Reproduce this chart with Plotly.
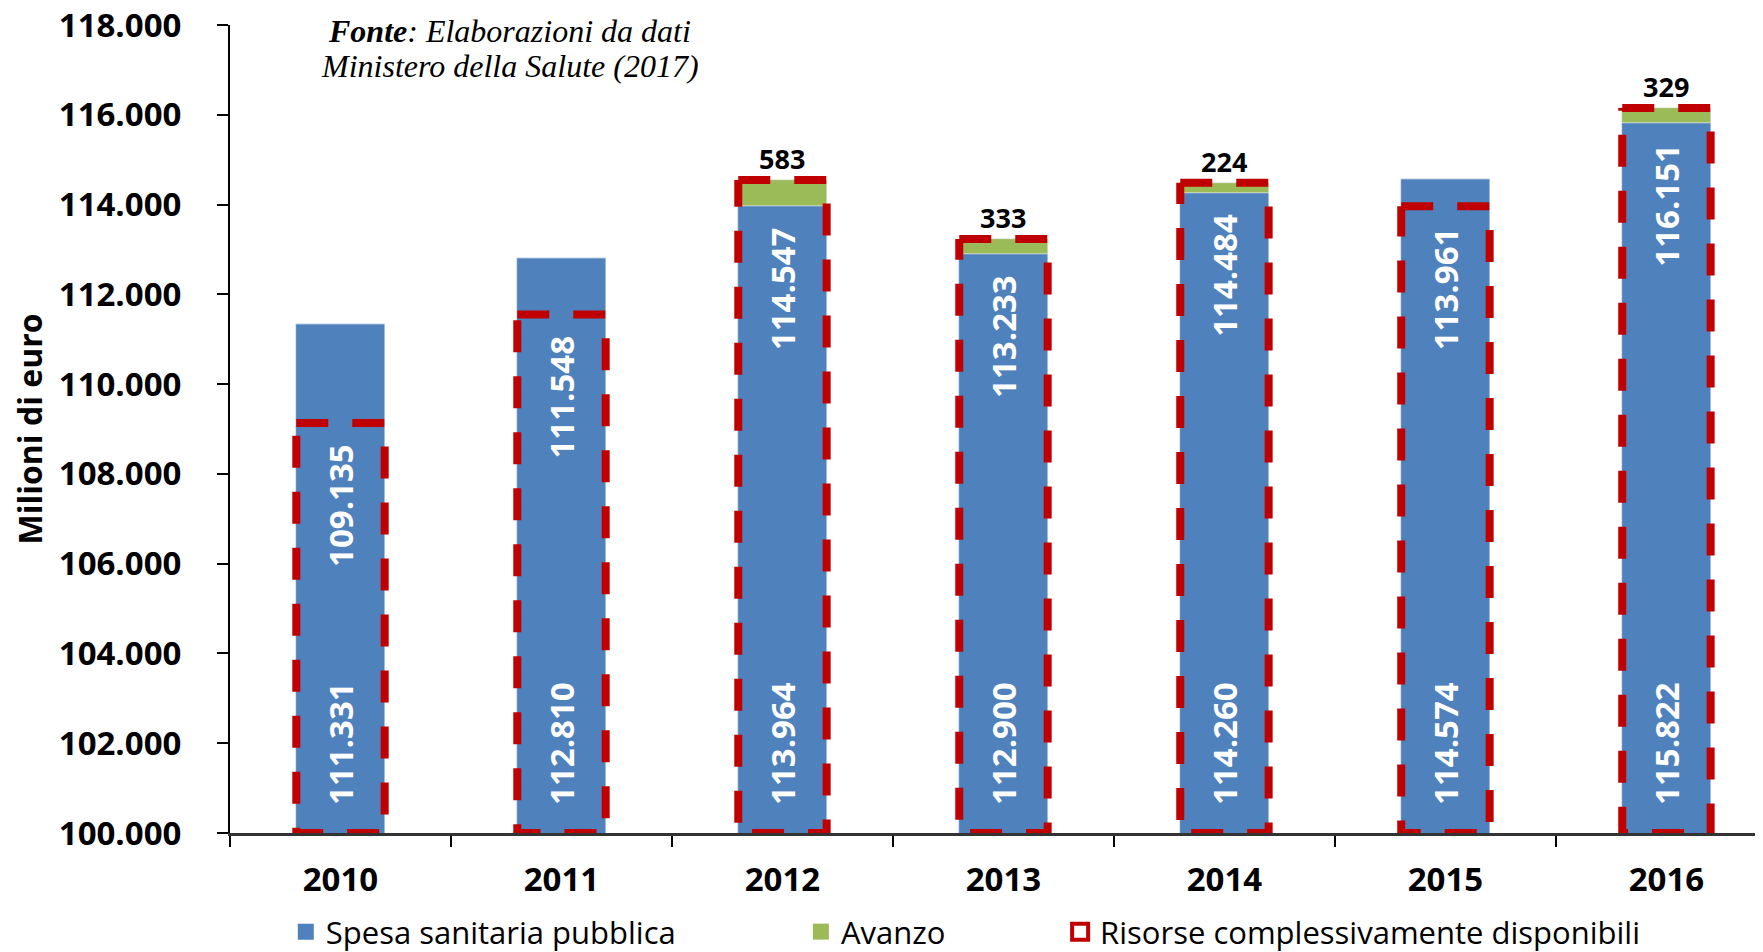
import plotly.graph_objects as go

# Data (milioni di euro)
anni = ["2010", "2011", "2012", "2013", "2014", "2015", "2016"]
spesa = [111331, 112810, 113964, 112900, 114260, 114574, 115822]
avanzo = [None, None, 583, 333, 224, None, 329]
risorse = [109135, 111548, 114547, 113233, 114484, 113961, 116151]

BLUE = "#4F81BD"
GREEN = "#9BBB59"
RED = "#C00000"
FONT = "Open Sans"
BASE = 100000
HALF = 0.2  # half bar width in category units


def fmt(v):
    return f"{v:,}".replace(",", ".")


idx = list(range(len(anni)))

fig = go.Figure()

# Blue bars: public health spending
fig.add_trace(go.Bar(x=idx, y=spesa, width=2 * HALF, marker_color=BLUE,
                     showlegend=False, hoverinfo="skip"))

# Green bars: surplus stacked on top of the spending
fig.add_trace(go.Bar(x=idx, y=[a if a else 0 for a in avanzo], base=spesa,
                     width=2 * HALF, marker_color=GREEN,
                     showlegend=False, hoverinfo="skip"))

# Red dashed outline: total available resources (clockwise from top-left)
ox, oy = [], []
for i, r in zip(idx, risorse):
    ox += [i - HALF, i + HALF, i + HALF, i - HALF, i - HALF, None]
    oy += [r, r, BASE, BASE, r, None]
fig.add_trace(go.Scatter(x=ox, y=oy, mode="lines",
                         line=dict(color=RED, width=8, dash="32px,24px"),
                         showlegend=False, hoverinfo="skip"))

# Legend entries (one legend per item to keep the original spacing)
fig.add_trace(go.Scatter(x=[None], y=[None], mode="markers", name="Spesa sanitaria pubblica",
                         marker=dict(symbol="square", size=16, color=BLUE), legend="legend"))
fig.add_trace(go.Scatter(x=[None], y=[None], mode="markers", name="Avanzo",
                         marker=dict(symbol="square", size=16, color=GREEN), legend="legend2"))
fig.add_trace(go.Scatter(x=[None], y=[None], mode="markers", name="Risorse complessivamente disponibili",
                         marker=dict(symbol="square-open", size=16, color=RED, line=dict(width=4)),
                         legend="legend3"))

# Value labels
for i, s, r, a in zip(idx, spesa, risorse, avanzo):
    fig.add_annotation(x=i, y=BASE, text=fmt(s), textangle=-90, showarrow=False,
                       yanchor="bottom", yshift=26,
                       font=dict(family=FONT, size=33, color="white", weight="bold"))
    fig.add_annotation(x=i, y=min(s, r), text=fmt(r), textangle=-90, showarrow=False,
                       yanchor="top", yshift=-19,
                       font=dict(family=FONT, size=33, color="white", weight="bold"))
    if a:
        fig.add_annotation(x=i, y=r, text=str(a), showarrow=False,
                           yanchor="bottom", yshift=1,
                           font=dict(family=FONT, size=27, color="black", weight="bold"))

# Source note (two lines, tighter spacing than the default line height)
note_font = dict(family="Liberation Serif", size=32, color="black", style="italic")
fig.add_annotation(xref="paper", yref="paper", x=0.1826, y=0.9926, xanchor="center", yanchor="middle",
                   text="<b>Fonte</b>: Elaborazioni da dati", showarrow=False, font=note_font)
fig.add_annotation(xref="paper", yref="paper", x=0.1826, y=0.9493, xanchor="center", yanchor="middle",
                   text="Ministero della Salute (2017)", showarrow=False, font=note_font)

legend_common = dict(orientation="h", yanchor="middle", y=-0.1225, xanchor="left",
                     bgcolor="rgba(0,0,0,0)", font=dict(family=FONT, size=31, color="black"))

fig.update_layout(
    width=1755, height=944,
    margin=dict(l=222, r=0, t=17, b=119, autoexpand=False),
    paper_bgcolor="white", plot_bgcolor="white",
    barmode="overlay", bargap=0,
    separators=",.",
    font=dict(family=FONT, color="black"),
    legend=dict(x=0.0364, **legend_common),
    legend2=dict(x=0.3724, **legend_common),
    legend3=dict(x=0.5415, **legend_common),
    xaxis=dict(range=[-0.5, 6.437], tickvals=idx, ticktext=anni, ticks="",
               tickfont=dict(family=FONT, size=33, weight="bold"),
               ticklabelstandoff=16, automargin=False,
               showline=True, linecolor="#333333", linewidth=2.5, showgrid=False, zeroline=False,
               minor=dict(tick0=-0.5, dtick=1, ticks="outside", ticklen=11, tickwidth=1.5,
                          tickcolor="black", showgrid=False)),
    yaxis=dict(range=[100000, 118000], dtick=2000, tickformat=",", ticks="outside",
               ticklen=11, tickwidth=2, tickcolor="black",
               tickfont=dict(family=FONT, size=33, weight="bold"),
               ticklabelstandoff=29, automargin=False, ticklabeloverflow="allow",
               showline=True, linecolor="black", linewidth=2, showgrid=False, zeroline=False,
               title=dict(text="Milioni di euro", standoff=31,
                          font=dict(family=FONT, size=32, weight="bold"))),
)

fig.write_html("out.html")
